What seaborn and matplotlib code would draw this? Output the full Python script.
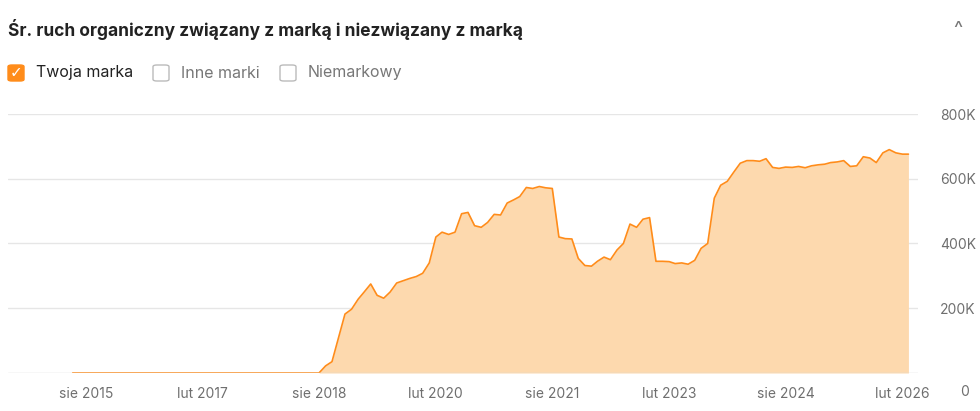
import matplotlib
matplotlib.use("Agg")
import matplotlib.pyplot as plt
import matplotlib.dates as mdates
from matplotlib.patches import FancyBboxPatch
import numpy as np
import pandas as pd
import seaborn as sns

sns.set_theme(style="white")
plt.rcParams['font.family'] = ['Inter', 'DejaVu Sans']

title = "Śr. ruch organiczny związany z marką i niezwiązany z marką"
legend_items = ["Twoja marka", "Inne marki", "Niemarkowy"]
zero_months = 38  # Jun 2015 .. Jul 2018
brand_values_k = [0, 22, 35, 110, 182, 197, 228, 250, 275, 240, 231, 250, 278, 285, 292, 298,
                  308, 340, 420, 435, 428, 435, 492, 496, 455, 450, 465, 490, 488, 525, 535,
                  545, 573, 570, 576, 572, 570, 420, 415, 414, 354, 332, 330, 345, 358, 350,
                  380, 400, 460, 450, 475, 480, 345, 345, 344, 338, 340, 336, 348, 385, 400,
                  540, 580, 592, 620, 648, 656, 656, 654, 662, 635, 632, 636, 635, 638, 634,
                  640, 643, 645, 650, 652, 656, 638, 640, 668, 664, 650, 680, 690, 680, 676, 676]
tick_dates = ["2015-08-01", "2017-02-01", "2018-08-01", "2020-02-01", "2021-08-01",
              "2023-02-01", "2024-08-01", "2026-02-01"]
tick_labels = ["sie 2015", "lut 2017", "sie 2018", "lut 2020", "sie 2021",
               "lut 2023", "sie 2024", "lut 2026"]
y_ticks = [200000, 400000, 600000, 800000]
y_labels = ["200K", "400K", "600K", "800K"]

values = [0] * zero_months + brand_values_k
dates = pd.date_range("2015-06-01", periods=len(values), freq="MS")
df = pd.DataFrame({"date": dates, "traffic": np.array(values) * 1000})

fig = plt.figure(figsize=(9.8, 4.11), dpi=100)
ax = fig.add_axes([8/980, 1-373/411, (918-8)/980, (373-114)/411])
line_c = "#ff8c1a"
fill_c = "#fdd9ae"
ax.fill_between(df["date"], df["traffic"], color=fill_c, lw=0)
sns.lineplot(data=df, x="date", y="traffic", ax=ax, color=line_c, lw=1.2)
ax.set_xlim(pd.Timestamp("2014-08-01"), pd.Timestamp("2026-04-15"))
ax.set_ylim(0, 800000)
ax.set_xlabel(""); ax.set_ylabel("")
ax.set_xticks([pd.Timestamp(d) for d in tick_dates])
ax.set_xticklabels(tick_labels, color="#6f6f6f", fontsize=10)
ax.set_yticks(y_ticks)
ax.set_yticklabels(y_labels, color="#6f6f6f", fontsize=10)
ax.yaxis.tick_right()
ax.tick_params(axis="both", length=0, pad=10)
ax.tick_params(axis="y", pad=16)
ax.grid(axis="y", color="#e6e6e6", lw=1)
for s in ax.spines.values():
    s.set_visible(False)
ax.axhline(0, color="#d9d9d9", lw=1)
fig.text(965/980, 1-392/411, "0", color="#6f6f6f", fontsize=10, ha="center", va="center")

fig.text(8/980, 1-30/411, title, fontsize=12.5, fontweight="bold", color="#222222", va="center")
fig.text(958/980, 1-30/411, "^", fontsize=14, color="#777777", ha="center", va="center")

# legend checkboxes
xs = [8, 153, 280]
for i, (x0, lab) in enumerate(zip(xs, legend_items)):
    checked = i == 0
    box = FancyBboxPatch((x0/980, 1-81/411), 16/980, 16/411,
                         boxstyle="round,pad=0,rounding_size=0.004",
                         transform=fig.transFigure,
                         facecolor=line_c if checked else "white",
                         edgecolor=line_c if checked else "#bbbbbb", lw=1)
    fig.patches.append(box)
    if checked:
        fig.text((x0+8)/980, 1-73/411, "✓", color="white", fontsize=11, fontweight="bold",
                 ha="center", va="center", family=["DejaVu Sans"])
    fig.text((x0+28)/980, 1-73/411, lab, fontsize=11.5,
             color="#222222" if checked else "#777777", va="center")

fig.savefig("out.png", dpi=100)
